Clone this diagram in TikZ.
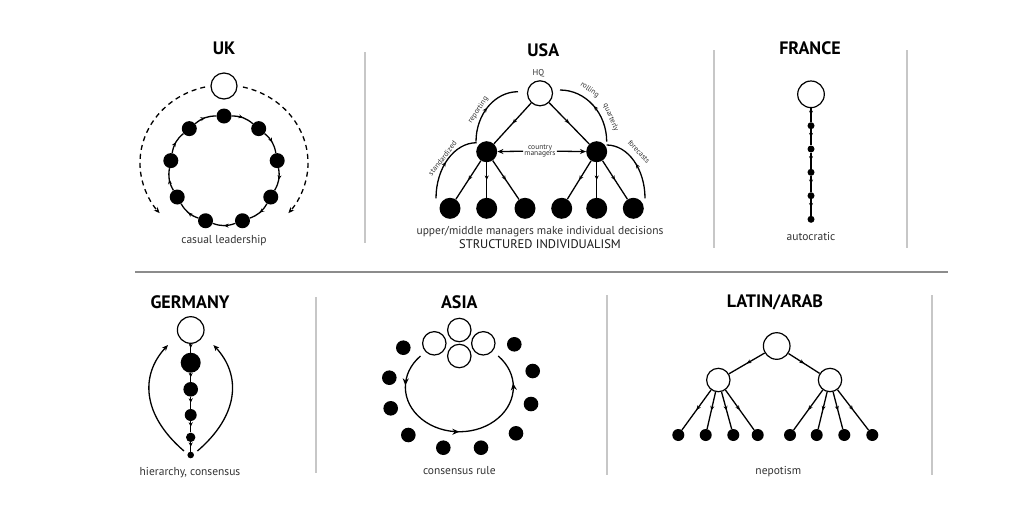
\documentclass[tikz,border=0pt]{standalone}
\usepackage{fontspec}
\setmainfont{PT Sans}
\usetikzlibrary{arrows.meta,decorations.markings,calc}
\begin{document}
\begin{tikzpicture}[x=1pt,y=-1pt,
  wn/.style={circle,draw=black,fill=white,line width=1.2pt,inner sep=0pt,minimum size=#1},
  bn/.style={circle,fill=black,inner sep=0pt,minimum size=#1},
  ln/.style={line width=1.3pt},
  ma/.style={postaction={decorate},decoration={markings,mark=at position #1 with {\arrow{Stealth[length=4.5pt,width=4pt]}}}},
  ma/.default=0.5,
  mar/.style={postaction={decorate},decoration={markings,mark=at position #1 with {\arrowreversed{Stealth[length=4.5pt,width=4pt]}}}},
  mar/.default=0.5,
  tip/.style={-{Stealth[length=6pt,width=5pt]}},
  title/.style={font=\fontsize{18}{20}\selectfont\bfseries},
  lab/.style={font=\fontsize{11.5}{13}\selectfont,text=black!80},
  sm/.style={font=\fontsize{7.5}{7.5}\selectfont,text=black!80,inner sep=1pt},
  sepv/.style={draw=black!22,line width=1.4pt},
  seph/.style={draw=black!45,line width=1.3pt}]
\useasboundingbox (0,0) rectangle (1024,512);
\fill[white] (0,0) rectangle (1024,512);

% separators
\draw[sepv] (365,52) -- (365,243);
\draw[sepv] (714,50) -- (714,248);
\draw[sepv] (907,50) -- (907,248);
\draw[seph] (135,272) -- (948,272);
\draw[sepv] (316,297) -- (316,473);
\draw[sepv] (607,295) -- (607,475);
\draw[sepv] (932,295) -- (932,475);

% ================= UK =================
\node[title] (tuk) at (224,48) {UK};
\node[wn=26pt] (ukw) at (224,86) {};
\foreach \i in {0,...,8}{
  \node[bn=15pt] (u\i) at ({224+54*cos(90+40*\i)},{170-54*sin(90+40*\i)}) {};
}
\foreach \i [evaluate=\i as \j using {int(mod(\i+1,9))}] in {0,...,8}{
  \draw[ln,ma] (u\j) to[bend left=20] (u\i);
}
\coordinate (ukl) at (205.1,87);
\coordinate (ukr) at (242.9,87);
\draw[ln,dash pattern=on 5pt off 4pt,tip] (ukl) arc[start angle=-103,end angle=-220,x radius=84,y radius=78];
\draw[ln,dash pattern=on 5pt off 4pt,tip] (ukr) arc[start angle=-77,end angle=40,x radius=84,y radius=78];
\node[lab] (luk) at (224,241) {casual leadership};

% ================= USA =================
\node[title] (tusa) at (543.3,50) {USA};
\node[sm,font=\fontsize{8.5}{8.5}\selectfont] (hql) at (538.3,73.3) {HQ};
\node[wn=25pt] (hq) at (540,93.3) {};
\node[bn=21pt] (cl) at (486.7,151.7) {};
\node[bn=21pt] (cr) at (596.7,151.7) {};
\foreach \x [count=\k] in {450,486.7,525,561.7,596.7,633.3}{
  \node[bn=21pt] (b\k) at (\x,208.3) {};
}
\draw[ln,ma] (hq) -- (cl);
\draw[ln,ma] (hq) -- (cr);
\foreach \k in {1,2,3}{ \draw[ln,ma] (cl) -- (b\k); }
\foreach \k in {4,5,6}{ \draw[ln,ma] (cr) -- (b\k); }
\node[sm,align=center] (cm) at (540,151) {country\\[-1pt]managers};
\draw[ln,tip] (cm) -- (cl);
\draw[ln,tip] (cm) -- (cr);
\coordinate (rp) at (518,91.7);
\coordinate (st) at (476.7,142.7);
\coordinate (ro) at (560,90);
\coordinate (fc) at (606.7,145);
\draw[ln,mar] (rp) arc[start angle=-90,end angle=-180,x radius=42,y radius=50];
\draw[ln,mar] (st) arc[start angle=-90,end angle=-180,x radius=40.7,y radius=55.6];
\draw[ln,mar] (ro) arc[start angle=-90,end angle=0,x radius=46.7,y radius=51.7];
\draw[ln,mar] (fc) arc[start angle=-90,end angle=0,x radius=38.3,y radius=53.3];
\node[sm,rotate=56] (lrep) at (478.3,110) {reporting};
\node[sm,rotate=52] (lstd) at (442.5,158.3) {standardized};
\node[sm,rotate=-35] (lrol) at (589.7,90) {rolling};
\node[sm,rotate=-67] (lqua) at (610.8,117.5) {quarterly};
\node[sm,rotate=-47] (lfor) at (639,151.7) {forecasts};
\node[lab] (lusa1) at (540,231.7) {upper/middle managers make individual decisions};
\node[lab,font=\fontsize{12.5}{13}\selectfont,text=black!90] (lusa2) at (540,244) {STRUCTURED INDIVIDUALISM};

% ================= FRANCE =================
\node[title] (tfr) at (810,48.3) {FRANCE};
\node[wn=26.6pt] (fw) at (811,94.3) {};
\foreach \y [count=\k] in {125.7,149,172.3,195.7,219.3}{
  \node[bn=7pt] (f\k) at (811,\y) {};
}
\draw[ln,ma] (fw) -- (f1);
\draw[ln,ma] (f1) -- (f2);
\draw[ln,ma] (f2) -- (f3);
\draw[ln,ma] (f3) -- (f4);
\draw[ln,ma] (f4) -- (f5);
\node[lab] (lfr) at (811,236.7) {autocratic};

% ================= GERMANY =================
\node[title] (tde) at (190,301.7) {GERMANY};
\node[wn=26.6pt] (gw) at (190.7,330) {};
\node[bn=20pt] (g1) at (190.7,362.7) {};
\node[bn=14.6pt] (g2) at (190.7,389.3) {};
\node[bn=12pt] (g3) at (190.7,415) {};
\node[bn=9.4pt] (g4) at (190.7,437.3) {};
\node[bn=6.6pt] (g5) at (190.7,455) {};
\draw[ln,ma] (gw) -- (g1);
\draw[ln,ma] (g1) -- (g2);
\draw[ln,ma] (g2) -- (g3);
\draw[ln,ma] (g3) -- (g4);
\draw[ln,ma] (g4) -- (g5);
\coordinate (gl0) at (184,451);
\coordinate (gl1) at (168,345);
\coordinate (gr0) at (197.4,451);
\coordinate (gr1) at (213.4,345);
\draw[ln,tip] (gl0) .. controls (142,415) and (140,375) .. (gl1);
\draw[ln,tip] (gr0) .. controls (239.4,415) and (241.4,375) .. (gr1);
\node[lab] (lde) at (190,472.7) {hierarchy, consensus};

% ================= ASIA =================
\node[title] (tas) at (459.3,301.7) {ASIA};
\node[wn=23.4pt] (a1) at (459.3,330) {};
\node[wn=23.4pt] (a2) at (434.3,343.3) {};
\node[wn=23.4pt] (a3) at (483.3,343.3) {};
\node[wn=23.4pt] (a4) at (459.3,356) {};
\foreach \p [count=\k] in {(403.3,347.7),(389.3,377.7),(390.7,408.3),(408.3,435),(443.3,447.7),(481,447.7),(516,433.3),(531,404),(532.7,371),(514.3,344.3)}{
  \node[bn=14.6pt] (d\k) at \p {};
}
\coordinate (as0) at (420.5,356);
\draw[ln,postaction={decorate},decoration={markings,
   mark=at position 0.15 with {\arrow{Stealth[length=7pt,width=6pt]}},
   mark=at position 0.5 with {\arrow{Stealth[length=7pt,width=6pt]}},
   mark=at position 0.86 with {\arrow{Stealth[length=7pt,width=6pt]}}}]
   (as0) arc[start angle=-136,end angle=-404,x radius=54,y radius=44.7];
\node[lab] (las) at (459.3,471) {consensus rule};

% ================= LATIN/ARAB =================
\node[title] (tla) at (775,302.7) {LATIN/ARAB};
\node[wn=26.6pt] (lt) at (776.7,346) {};
\node[wn=23.4pt] (lm1) at (718.3,380) {};
\node[wn=23.4pt] (lm2) at (830,380) {};
\foreach \x [count=\k] in {678.3,705.7,733.3,757.7,790,816.7,844.3,872.3}{
  \node[bn=12pt] (lb\k) at (\x,435) {};
}
\draw[ln,ma] (lt) -- (lm1);
\draw[ln,ma] (lt) -- (lm2);
\foreach \k in {1,2,3,4}{ \draw[ln,ma] (lm1) -- (lb\k); }
\foreach \k in {5,6,7,8}{ \draw[ln,ma] (lm2) -- (lb\k); }
\node[lab] (lla) at (778.3,471.7) {nepotism};
\end{tikzpicture}
\end{document}
